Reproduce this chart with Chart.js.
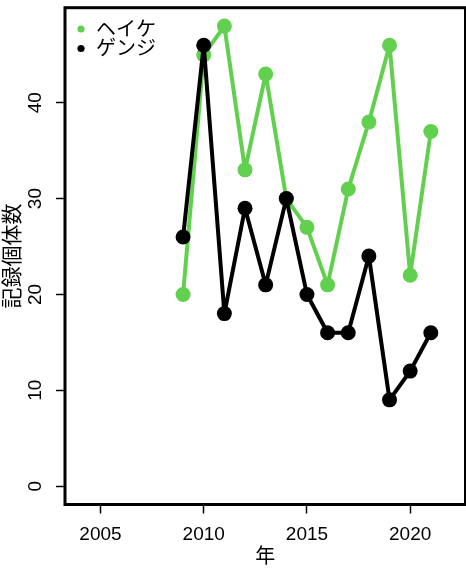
<!DOCTYPE html>
<html>
<head>
<meta charset="utf-8">
<script src="https://cdn.jsdelivr.net/npm/chart.js@4.4.0/dist/chart.umd.min.js"></script>
<style>
  body { margin: 0; background: #fff; }
  canvas { display: block; }
</style>
</head>
<body>
<canvas id="chart" width="466" height="569"></canvas>
<script>
const years = [2009, 2010, 2011, 2012, 2013, 2014, 2015, 2016, 2017, 2018, 2019, 2020, 2021];
const heike = [20, 45, 48, 33, 43, 30, 27, 21, 31, 38, 46, 22, 37];
const genji = [26, 46, 18, 29, 21, 30, 20, 16, 16, 24, 9, 12, 16];
const seriesNames = ["ヘイケ", "ゲンジ"];
const seriesColors = ["#61D04F", "#000000"];
const xTicks = [2005, 2010, 2015, 2020];
const yTicks = [0, 10, 20, 30, 40];

const tickFont = { family: "'Liberation Sans', Arial, sans-serif", size: 19 };
const jpFont = "'Liberation Sans', 'Noto Sans CJK JP', sans-serif";

function toPoints(vals) {
  return years.map((y, i) => ({ x: y, y: vals[i] }));
}

// R style box: heavy frame round the plot region
const boxPlugin = {
  id: "box",
  afterDraw(chart) {
    const { ctx, chartArea: a } = chart;
    ctx.save();
    ctx.strokeStyle = "#000";
    ctx.lineWidth = 3;
    ctx.strokeRect(a.left, a.top, a.right - a.left, a.bottom - a.top);
    ctx.restore();
  }
};

// legend in the top left corner, inside the plot
const legendPlugin = {
  id: "innerLegend",
  afterDraw(chart) {
    const ctx = chart.ctx;
    ctx.save();
    ctx.font = "20px " + jpFont;
    ctx.textBaseline = "middle";
    ctx.textAlign = "left";
    seriesNames.forEach((name, i) => {
      const cy = 29 + i * 19.5;
      ctx.fillStyle = seriesColors[i];
      ctx.beginPath();
      ctx.arc(81, cy, 3.6, 0, Math.PI * 2);
      ctx.fill();
      ctx.fillStyle = "#000";
      ctx.fillText(name, 96, cy + 1);
    });
    ctx.restore();
  }
};

const config = {
  type: "line",
  data: {
    datasets: [
      {
        label: seriesNames[0],
        data: toPoints(heike),
        borderColor: seriesColors[0],
        backgroundColor: seriesColors[0],
        borderWidth: 4,
        borderJoinStyle: "round",
        borderCapStyle: "round",
        pointRadius: 7.5,
        pointBorderWidth: 0,
        order: 1,
      },
      {
        label: seriesNames[1],
        data: toPoints(genji),
        borderColor: seriesColors[1],
        backgroundColor: seriesColors[1],
        borderWidth: 4,
        borderJoinStyle: "round",
        borderCapStyle: "round",
        pointRadius: 7.5,
        pointBorderWidth: 0,
        order: 0,
      },
    ],
  },
  options: {
    responsive: false,
    animation: false,
    devicePixelRatio: 1,
    clip: false,
    layout: { autoPadding: false, padding: { top: 7.7, right: 0.5, left: 0, bottom: 0 } },
    plugins: {
      legend: { display: false },
      tooltip: { enabled: false },
    },
    scales: {
      x: {
        type: "linear",
        min: 2003.28,
        max: 2022.68,
        afterBuildTicks: (s) => { s.ticks = xTicks.map(v => ({ value: v })); },
        afterFit: (s) => { s.height = 64.5; s.paddingLeft = 0; s.paddingRight = 0; },
        border: { display: false },
        grid: { drawOnChartArea: false, drawTicks: true, tickLength: 9, tickColor: "#000", tickWidth: 1.5 },
        ticks: { color: "#000", font: tickFont, padding: 10, maxRotation: 0, callback: (v) => String(v) },
        title: { display: true, text: "年", color: "#000", font: { family: jpFont, size: 20, lineHeight: 1.2 }, padding: { top: 0, bottom: 0 } },
      },
      y: {
        type: "linear",
        min: -1.92,
        max: 49.92,
        afterBuildTicks: (s) => { s.ticks = yTicks.map(v => ({ value: v })); },
        afterFit: (s) => { s.width = 65; s.paddingTop = 0; s.paddingBottom = 0; },
        border: { display: false },
        grid: { drawOnChartArea: false, drawTicks: true, tickLength: 9, tickColor: "#000", tickWidth: 1.5 },
        ticks: { color: "#000", font: tickFont, padding: 9.5, minRotation: 90, maxRotation: 90, crossAlign: "center", callback: (v) => String(v) },
        title: { display: true, text: "記録個体数", color: "#000", font: { family: jpFont, size: 21, lineHeight: 1.2 }, padding: { top: 0.4, bottom: 0 } },
      },
    },
  },
  plugins: [boxPlugin, legendPlugin],
};

new Chart(document.getElementById("chart"), config);
</script>
</body>
</html>
